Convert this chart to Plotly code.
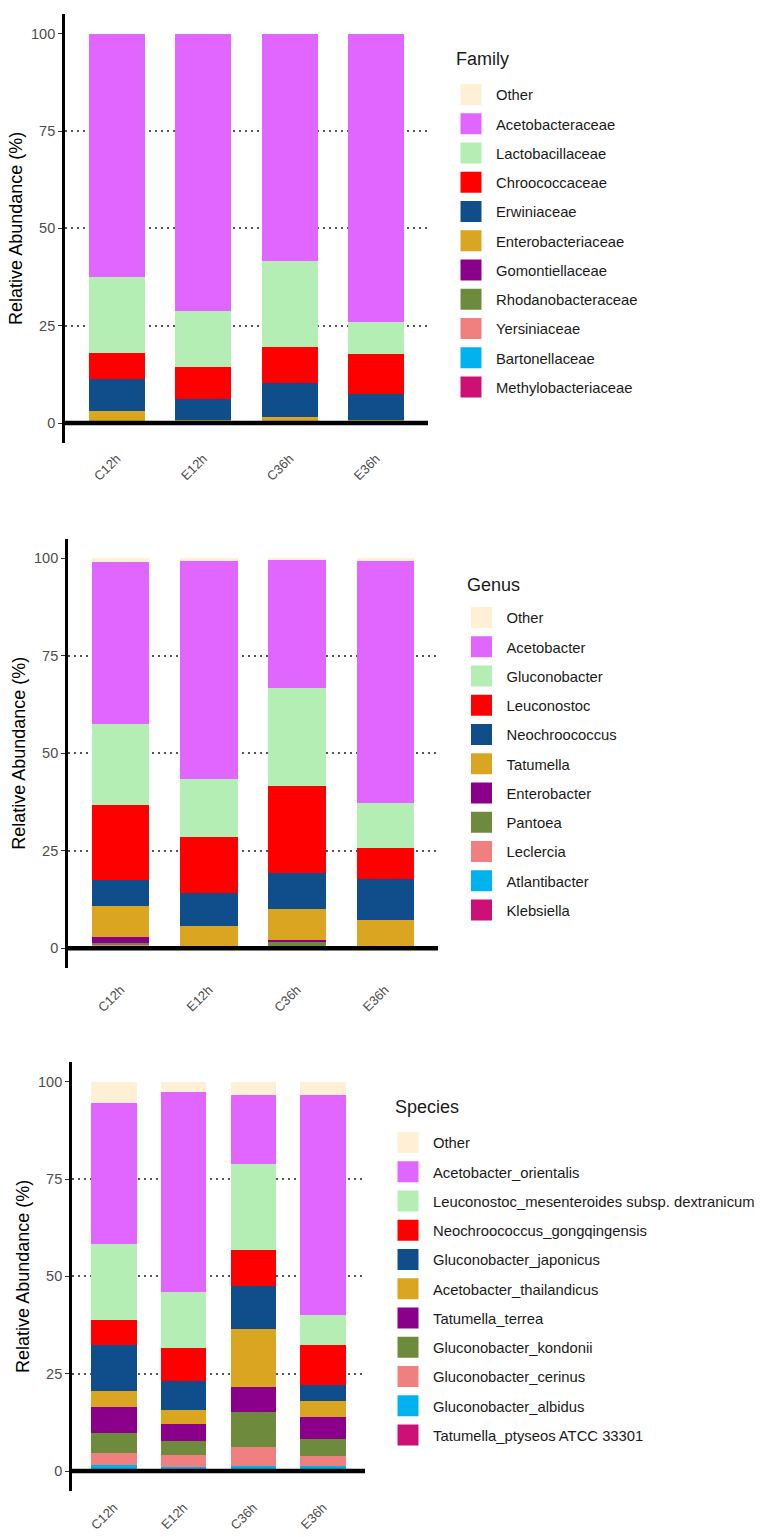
import plotly.graph_objects as go

samples = ["C12h", "E12h", "C36h", "E36h"]

# taxa in legend order (top of the stack first), values in % per sample
family_taxa = ["Other", "Acetobacteraceae", "Lactobacillaceae", "Chroococcaceae",
               "Erwiniaceae", "Enterobacteriaceae", "Gomontiellaceae",
               "Rhodanobacteraceae", "Yersiniaceae", "Bartonellaceae",
               "Methylobacteriaceae"]
family_values = [
    [0.0, 0.0, 0.0, 0.0],
    [62.6, 71.1, 58.3, 74.0],
    [19.3, 14.4, 22.3, 8.2],
    [6.7, 8.4, 9.1, 10.4],
    [8.4, 5.25, 8.8, 6.55],
    [2.6, 0.6, 1.2, 0.6],
    [0.15, 0.08, 0.1, 0.1],
    [0.1, 0.06, 0.08, 0.06],
    [0.08, 0.05, 0.06, 0.05],
    [0.04, 0.03, 0.03, 0.03],
    [0.03, 0.03, 0.03, 0.02],
]

genus_taxa = ["Other", "Acetobacter", "Gluconobacter", "Leuconostoc",
              "Neochroococcus", "Tatumella", "Enterobacter", "Pantoea",
              "Leclercia", "Atlantibacter", "Klebsiella"]
genus_values = [
    [0.9, 0.5, 0.3, 0.7],
    [41.7, 56.2, 33.0, 62.1],
    [20.6, 14.7, 25.2, 11.6],
    [19.4, 14.5, 22.3, 7.9],
    [6.5, 8.5, 9.1, 10.4],
    [7.9, 5.2, 8.0, 6.6],
    [1.7, 0.1, 0.6, 0.3],
    [0.2, 0.1, 1.1, 0.15],
    [0.7, 0.1, 0.2, 0.1],
    [0.1, 0.05, 0.1, 0.1],
    [0.3, 0.05, 0.1, 0.05],
]

species_taxa = ["Other", "Acetobacter_orientalis",
                "Leuconostoc_mesenteroides subsp. dextranicum",
                "Neochroococcus_gongqingensis", "Gluconobacter_japonicus",
                "Acetobacter_thailandicus", "Tatumella_terrea",
                "Gluconobacter_kondonii", "Gluconobacter_cerinus",
                "Gluconobacter_albidus", "Tatumella_ptyseos ATCC 33301"]
species_values = [
    [5.6, 2.7, 3.3, 3.3],
    [36.2, 51.2, 17.8, 56.5],
    [19.4, 14.4, 22.2, 7.9],
    [6.5, 8.6, 9.2, 10.3],
    [11.7, 7.3, 10.9, 3.9],
    [4.2, 3.6, 14.9, 4.2],
    [6.6, 4.4, 6.6, 5.7],
    [5.2, 3.7, 9.0, 4.3],
    [3.1, 3.0, 4.8, 2.6],
    [1.2, 0.8, 1.0, 1.0],
    [0.3, 0.3, 0.3, 0.3],
]

palette = ["#FFEFD5", "#E066FF", "#B4EEB4", "#FF0000", "#104E8B", "#DAA520",
           "#8B008B", "#6E8B3D", "#F08080", "#00B2EE", "#CD1076"]

W, H = 763, 1537
FONT = "Liberation Sans, Arial, sans-serif"


def px_x(v):
    return v / W


def px_y(v):
    return 1 - v / H


# pixel layout: plot box (x0, x1, ytop, ybottom), label standoff,
# legend (x, ytop), legend title (x, ymid)
panels = [
    ("Family", family_taxa, family_values, (65, 428, 14.2, 442.5), 5,
     (446, 78.5), (454, 59)),
    ("Genus", genus_taxa, genus_values, (68, 438, 538.8, 967.8), 11,
     (456.5, 601.5), (465, 585)),
    ("Species", species_taxa, species_values, (72, 365, 1062.2, 1490.5), 6,
     (383, 1126.5), (392.5, 1107)),
]

fig = go.Figure()

for i, (title, taxa, values, box, standoff, leg, ttl) in enumerate(panels):
    n = "" if i == 0 else str(i + 1)
    xa, ya, lg = "x" + n, "y" + n, "legend" + n
    # stack from the bottom taxon upwards
    for name, vals, col in reversed(list(zip(taxa, values, palette))):
        fig.add_trace(go.Bar(x=samples, y=vals, name=name, marker_color=col,
                             marker_line_width=0, showlegend=False,
                             xaxis=xa, yaxis=ya))
    # legend entries with larger square keys
    for name, col in zip(taxa, palette):
        fig.add_trace(go.Scatter(x=[None], y=[None], mode="markers", name=name,
                                 legendgroup=title + name, legend=lg,
                                 marker=dict(symbol="square", size=16, color=col,
                                             line=dict(width=5, color=col)),
                                 xaxis=xa, yaxis=ya))

    x0, x1, yt, yb = box
    fig.layout["xaxis" + n] = dict(
        domain=[px_x(x0), px_x(x1)], anchor=ya, range=[-0.6, 3.6],
        showline=False, showgrid=False, zeroline=False, ticks="",
        tickangle=-45, ticklabelstandoff=standoff, automargin=False,
        tickfont=dict(size=13, color="#4D4D4D", family=FONT))
    fig.layout["yaxis" + n] = dict(
        domain=[px_y(yb), px_y(yt)], anchor=xa, range=[-5, 105],
        tickvals=[0, 25, 50, 75, 100], showgrid=False, zeroline=False,
        showline=True, linecolor="black", linewidth=2.7, automargin=False,
        ticks="outside", ticklen=4, tickcolor="#333333",
        tickfont=dict(size=14.5, color="#4D4D4D", family=FONT),
        minor=dict(tickvals=[25, 50, 75], showgrid=True, gridcolor="#555555",
                   gridwidth=2, griddash="2px,4px", ticks=""),
        title=dict(text="Relative Abundance (%)", standoff=4,
                   font=dict(size=18, color="black", family=FONT)))
    fig.add_hline(y=0, line=dict(color="black", width=4.5), layer="above",
                  xref=xa, yref=ya)

    lx, ly = leg
    fig.layout[lg] = dict(
        x=px_x(lx), y=px_y(ly), xanchor="left", yanchor="top",
        font=dict(size=14.8, color="#1A1A1A", family=FONT),
        itemwidth=40, tracegroupgap=7, bgcolor="rgba(0,0,0,0)",
        itemclick=False, itemdoubleclick=False)
    tx, ty = ttl
    fig.add_annotation(text=title, xref="paper", yref="paper",
                       x=px_x(tx), y=px_y(ty), xanchor="left", yanchor="middle",
                       showarrow=False,
                       font=dict(size=18, color="#1A1A1A", family=FONT))

fig.update_layout(
    width=W, height=H, barmode="stack", bargap=0.35,
    margin=dict(l=0, r=0, t=0, b=0, autoexpand=False),
    plot_bgcolor="white", paper_bgcolor="white",
    font=dict(family=FONT),
)

# drop the browser's default page margin so the figure sits at the corner
fig.write_html("out.html", config={"displayModeBar": False},
               post_script="document.body.style.margin = '0';")
